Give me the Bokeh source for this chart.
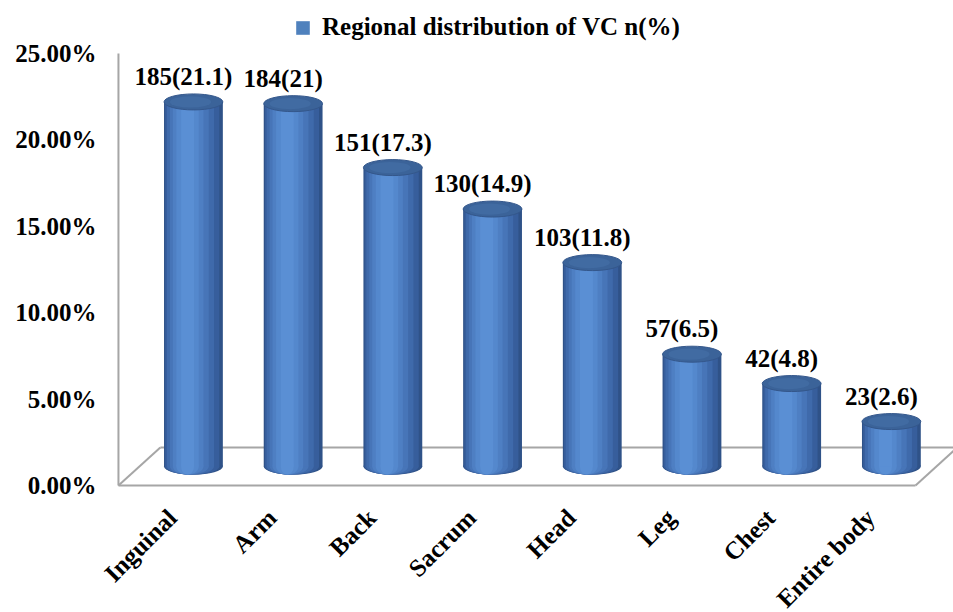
import math
from bokeh.plotting import figure
from bokeh.models import ColumnDataSource, Legend, LegendItem, Range1d
from bokeh.transform import dodge
from bokeh.embed import file_html
from bokeh.resources import INLINE
from bokeh.core.properties import value

# ---------------- data ----------------
categories = ["Inguinal", "Arm", "Back", "Sacrum", "Head", "Leg", "Chest", "Entire body"]
counts = [185, 184, 151, 130, 103, 57, 42, 23]
percents = [21.1, 21.0, 17.3, 14.9, 11.8, 6.5, 4.8, 2.6]
y_ticks = [0, 5, 10, 15, 20, 25]
y_tick_labels = ["0.00%", "5.00%", "10.00%", "15.00%", "20.00%", "25.00%"]
series_name = "Regional distribution of VC n(%)"

# ---------------- style / 3D geometry ----------------
FONT = "Liberation Serif"
FS = "25px"
DEPTH_X = 0.42        # depth of the 3D floor (x data units)
DEPTH_Y = 2.2         # depth of the 3D floor (y data units)
BAR_W = 0.59
X_START, X_END = -1.725, 7.833
Y_START, Y_END = -7.35, 28.07
AXIS_X = -0.542
FLOOR_RIGHT = 7.452
ELL_H = 16            # ellipse height in screen px

xs = list(range(len(categories)))
bar_x = [x + DEPTH_X / 2 for x in xs]
base = DEPTH_Y / 2
labels = [f"{c}({p:g})" for c, p in zip(counts, percents)]

src = ColumnDataSource(dict(
    x=bar_x, front_x=xs, cat=categories, top=[p + base for p in percents],
    bottom=[base] * len(xs), label=labels))
tick_src = ColumnDataSource(dict(y=y_ticks, text=y_tick_labels, x=[AXIS_X] * len(y_ticks)))

p = figure(width=953, height=612, output_backend="svg", toolbar_location=None,
           x_range=Range1d(X_START, X_END), y_range=Range1d(Y_START, Y_END),
           min_border=0)
p.outline_line_color = None
p.xgrid.visible = False
p.ygrid.visible = False
p.xaxis.visible = False
p.yaxis.visible = False

# floor & value axis line
floor_col = "#a6a6a6"
p.segment(x0=[AXIS_X, AXIS_X, AXIS_X + DEPTH_X, AXIS_X, FLOOR_RIGHT],
          y0=[0, 0, DEPTH_Y, 0, 0],
          x1=[AXIS_X, FLOOR_RIGHT, FLOOR_RIGHT + DEPTH_X, AXIS_X + DEPTH_X, FLOOR_RIGHT + DEPTH_X],
          y1=[y_ticks[-1], 0, DEPTH_Y, DEPTH_Y, DEPTH_Y],
          line_color=floor_col, line_width=2)

# value-axis tick labels
p.text(x="x", y="y", text="text", source=tick_src, x_offset=-22,
       text_align="right", text_baseline="middle", text_font=value(FONT),
       text_font_style="bold", text_font_size=FS, text_color="black")

# cylinders: gradient built from layered strips
layers = [
    (1.00, 0.00, "#2f5288"),
    (0.92, -0.02, "#375e9c"),
    (0.80, -0.05, "#3f6aab"),
    (0.66, -0.07, "#4775b8"),
    (0.52, -0.09, "#4e7fc3"),
    (0.38, -0.10, "#5488cd"),
    (0.22, -0.10, "#5a8fd4"),
]
for wf, sh, col in layers:
    w = BAR_W * wf
    p.ellipse(x=dodge("x", sh * BAR_W, range=p.x_range), y="bottom", width=w, height=ELL_H,
              height_units="screen", source=src, fill_color=col, line_color=None)
    p.vbar(x=dodge("x", sh * BAR_W, range=p.x_range), top="top", bottom="bottom", width=w,
           source=src, fill_color=col, line_color=None)

# top caps
p.ellipse(x="x", y="top", width=BAR_W, height=ELL_H, height_units="screen", source=src,
          fill_color="#3b6399", line_color="#34578b", line_width=1)
p.ellipse(x=dodge("x", -0.05 * BAR_W, range=p.x_range), y="top", width=BAR_W * 0.7,
          height=ELL_H * 0.7, height_units="screen", source=src,
          fill_color="#416ba2", line_color=None)

# value labels
p.text(x="x", y="top", text="label", source=src, x_offset=-10, y_offset=-12,
       text_align="center", text_baseline="bottom", text_font=value(FONT),
       text_font_style="bold", text_font_size=FS, text_color="black")

# category labels (rotated)
p.text(x="front_x", y=0, text="cat", source=src, angle=math.pi / 4, y_offset=28,
       text_align="right", text_baseline="middle", text_font=value(FONT),
       text_font_style="bold", text_font_size=FS, text_color="black")

# legend (marker from a zero-width series renderer sharing the bar data)
lr_vis = p.vbar(x="x", top="top", bottom="bottom", width=0, source=src,
                fill_color="#4f81bd", line_color=None)
legend = Legend(items=[LegendItem(label=series_name, renderers=[lr_vis])],
                location=(294, 571), orientation="horizontal",
                border_line_color=None, background_fill_alpha=0,
                padding=0, margin=0, glyph_width=17, glyph_height=17, label_standoff=11,
                label_text_font=FONT, label_text_font_style="bold",
                label_text_font_size=FS, label_text_color="black")
p.add_layout(legend, "center")

open("out.html", "w").write(file_html(p, INLINE))
